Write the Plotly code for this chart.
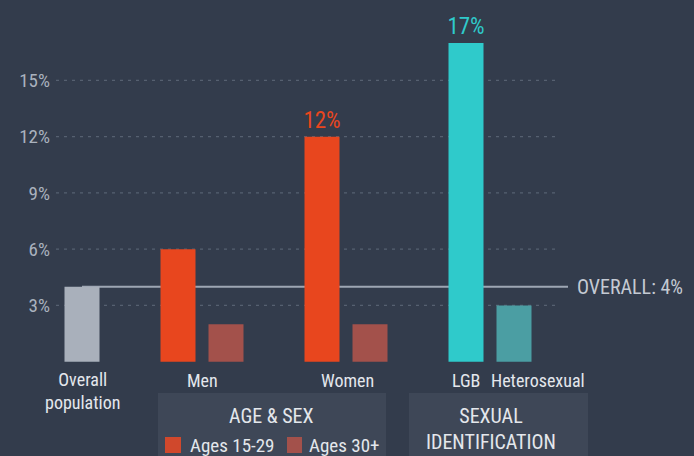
import plotly.graph_objects as go

# ---------------- data ----------------
groups = ["Overall\npopulation", "Men", "Women", "LGB", "Heterosexual"]
series_names = ["Overall population", "Ages 15-29", "Ages 30+", "LGB", "Heterosexual"]
overall_value = 4
men_values = [6, 2]        # Ages 15-29, Ages 30+
women_values = [12, 2]     # Ages 15-29, Ages 30+
lgb_value = 17
hetero_value = 3
y_ticks = [3, 6, 9, 12, 15]
y_tick_labels = ["3%", "6%", "9%", "12%", "15%"]
box_titles = ["AGE & SEX", "SEXUAL<br>IDENTIFICATION"]
legend_labels = ["Ages 15-29", "Ages 30+"]
overall_label = "OVERALL: 4%"

# ---------------- style ----------------
W, H = 694, 456
BG = "#333c4c"
BOX = "#3e4757"
GRAY = "#a9b0bb"
RED = "#e8461e"
BROWN = "#a3514b"
CYAN = "#2fcacb"
TEAL = "#4b9ea3"
TXT = "#e4e7ec"
TICK = "#aab2be"
GRID = "#566070"
FONT = "Roboto Condensed, Liberation Sans Narrow, Roboto, sans-serif"

ML = 55
SLOT = 48.0          # px per slot
X0PX = 82.0          # px centre of slot 0
Y0PX = 361.7         # px of 0%
PXPCT = 18.75        # px per percent
BARW = 35 / SLOT

def X(px):
    return (px - X0PX) / SLOT

def Y(py):
    return (Y0PX - py) / PXPCT

# slot layout: overall, gap, men(2), gap, women(2), gap, sexual id(2)
s_overall = 0
s_men = [2, 3]
s_women = [5, 6]
s_lgb = 8
s_het = 9

fig = go.Figure()

def bar(xs, ys, color, name, texts=None, tcolor=None):
    fig.add_trace(go.Bar(
        x=xs, y=ys, width=BARW, name=name, marker=dict(color=color, line=dict(width=0)),
        text=texts, textposition="outside", cliponaxis=False, constraintext="none",
        textfont=dict(family=FONT, size=23, color=tcolor or color),
        showlegend=False, hoverinfo="skip"))

bar([s_overall], [overall_value], GRAY, series_names[0])
bar([s_men[0], s_women[0]], [men_values[0], women_values[0]], RED, series_names[1],
    texts=["", f"{women_values[0]}%"], tcolor=RED)
bar([s_men[1], s_women[1]], [men_values[1], women_values[1]], BROWN, series_names[2])
bar([s_lgb], [lgb_value], CYAN, series_names[3], texts=[f"{lgb_value}%"], tcolor=CYAN)
bar([s_het], [hetero_value], TEAL, series_names[4])

shapes = []
# dashed gridlines
for t in y_ticks:
    shapes.append(dict(type="line", xref="x", yref="y", x0=X(56), x1=X(556), y0=t, y1=t,
                       line=dict(color=GRID, width=1.2, dash="3px,5px"), layer="below"))
# overall reference line
shapes.append(dict(type="line", xref="x", yref="y", x0=s_overall, x1=X(568),
                   y0=overall_value, y1=overall_value,
                   line=dict(color="#9ea6b3", width=2), layer="below"))
# group boxes
shapes.append(dict(type="rect", xref="x", yref="y", x0=X(158), x1=X(386), y0=Y(393), y1=Y(470),
                   fillcolor=BOX, line=dict(width=0), layer="below"))
shapes.append(dict(type="rect", xref="x", yref="y", x0=X(409), x1=X(588), y0=Y(393), y1=Y(470),
                   fillcolor=BOX, line=dict(width=0), layer="below"))
# legend squares
shapes.append(dict(type="rect", xref="x", yref="y", x0=X(165), x1=X(181), y0=Y(437), y1=Y(453),
                   fillcolor="#d0482c", line=dict(width=0)))
shapes.append(dict(type="rect", xref="x", yref="y", x0=X(287), x1=X(302), y0=Y(437), y1=Y(453),
                   fillcolor=BROWN, line=dict(width=0)))

ann = []
def label(x, y, text, size=18, color=TXT, xanchor="center", yanchor="middle"):
    ann.append(dict(x=x, y=y, xref="x", yref="y", text=text, showarrow=False,
                    font=dict(family=FONT, size=size, color=color),
                    xanchor=xanchor, yanchor=yanchor))

# category labels
label(s_overall, Y(391), groups[0].replace("\n", "<br>"))
label(sum(s_men) / 2, Y(380), groups[1])
label(X(347), Y(380), groups[2])
label(s_lgb, Y(380), groups[3])
label(X(538), Y(380), groups[4])
# box titles
label(X(271), Y(416), box_titles[0], size=20)
label(X(491), Y(429), box_titles[1], size=20)
# legend labels
label(X(188), Y(445), legend_labels[0], size=19, xanchor="left")
label(X(307), Y(445), legend_labels[1], size=19, xanchor="left")
# overall label
label(X(575), overall_value, overall_label, size=20, color="#c4cad3", xanchor="left")

fig.update_layout(
    width=W, height=H, margin=dict(l=ML, r=0, t=0, b=0),
    paper_bgcolor=BG, plot_bgcolor=BG, barmode="overlay",
    shapes=shapes, annotations=ann,
    font=dict(family=FONT, color=TXT),
    xaxis=dict(range=[X(ML), X(W)], showgrid=False, zeroline=False, showticklabels=False,
               fixedrange=True),
    yaxis=dict(range=[Y(H), Y(0)], tickvals=y_ticks, ticktext=y_tick_labels, showgrid=False,
               zeroline=False, ticks="", ticklabelstandoff=4,
               tickfont=dict(family=FONT, size=19, color=TICK), fixedrange=True),
)

post = (
    "var s=document.createElement('style');"
    "s.innerHTML='html,body{margin:0;padding:0;background:" + BG + ";overflow:hidden}';"
    "document.head.appendChild(s);"
)

fig.write_html("out.html", post_script=post, config={"displayModeBar": False})
